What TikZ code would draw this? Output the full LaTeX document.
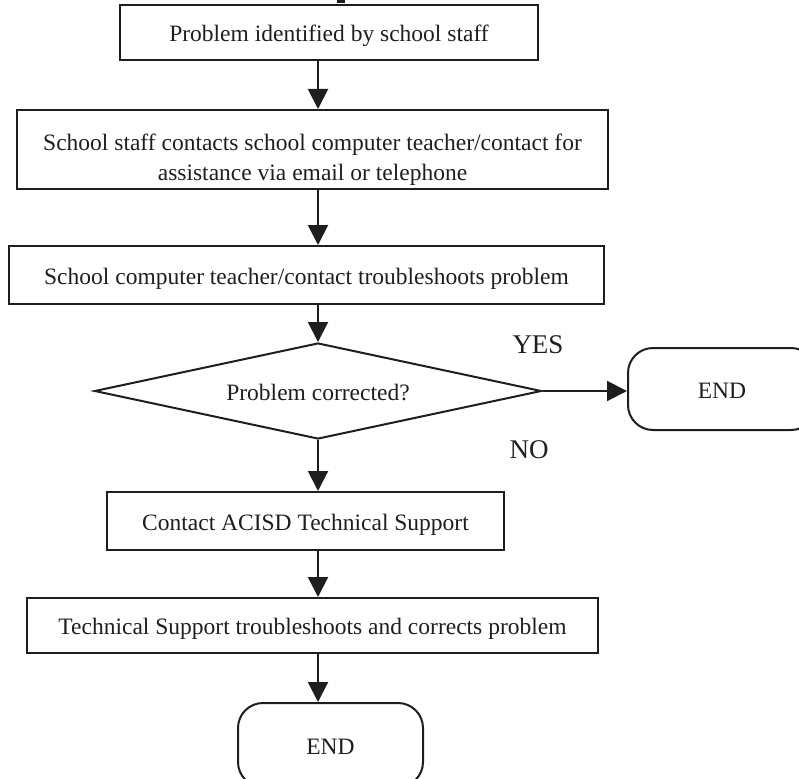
\documentclass[tikz,border=0pt]{standalone}
\usepackage{fontspec}
\setmainfont{Liberation Serif}
\usetikzlibrary{arrows.meta,shapes.geometric}
\definecolor{ink}{RGB}{30,30,30}
\begin{document}
\begin{tikzpicture}[x=1pt,y=-1pt,
  every node/.style={font=\fontsize{23.5}{30}\selectfont, text=ink},
  frame/.style={draw=ink, line width=2pt, inner sep=0pt,
                text height=18pt, text depth=0pt},
  procbox/.style={frame, rectangle},
  decision/.style={frame, diamond, aspect=4.66},
  terminal/.style={frame, rectangle, rounded corners=25pt},
  flow/.style={draw=ink, line width=2pt, -{Triangle[width=20pt,length=20pt]}},
  tag/.style={inner sep=0pt, font=\fontsize{27}{30}\selectfont}]
\useasboundingbox (0,0) rectangle (799,778);

% vertical axis shared by the main column of arrows
\coordinate (axis) at (318,0);

% stray mark at the top edge
\fill[ink] (337,0) rectangle (345,3);

% process steps
\node[procbox, minimum width=418pt, minimum height=55pt] (b1) at (329,32.5)
  {Problem identified by school staff};
\node[procbox, minimum width=591pt, minimum height=79pt] (b2) at (312.5,149.5) {};
\node[inner sep=0pt, align=center, anchor=north] (b2t) at (312.5,134)
  {School staff contacts school computer teacher/contact for\\assistance via email or telephone};
\node[procbox, minimum width=595pt, minimum height=58pt] (b3) at (306.5,275)
  {School computer teacher/contact troubleshoots problem};

% decision
\node[decision, minimum width=447pt, minimum height=96pt] (dec) at (318,391)
  {Problem corrected?};
\node[tag, anchor=base] (yes) at (538,353) {YES};
\node[tag, anchor=base] (no) at (529,458) {NO};

% terminal on the YES branch (runs past the right edge)
\node[terminal, minimum width=188pt, minimum height=82pt] (endr) at (722,389) {END};

% NO branch
\node[procbox, minimum width=397pt, minimum height=58pt] (b4) at (305.5,521)
  {Contact ACISD Technical Support};
\node[procbox, minimum width=571pt, minimum height=55pt] (b5) at (312.5,625.5)
  {Technical Support troubleshoots and corrects problem};
% terminal at the foot (runs past the bottom edge)
\node[terminal, minimum width=185pt, minimum height=84pt] (endb) at (330.5,745) {END};

% connectors
\draw[flow] (b1.south -| axis) -- (b2.north -| axis);
\draw[flow] (b2.south -| axis) -- (b3.north -| axis);
\draw[flow] (b3.south -| axis) -- (dec.north);
\draw[flow] (dec.east) -- (dec.east -| endr.west);
\draw[flow] (dec.south) -- (b4.north -| axis);
\draw[flow] (b4.south -| axis) -- (b5.north -| axis);
\draw[flow] (b5.south -| axis) -- (endb.north -| axis);
\end{tikzpicture}
\end{document}
